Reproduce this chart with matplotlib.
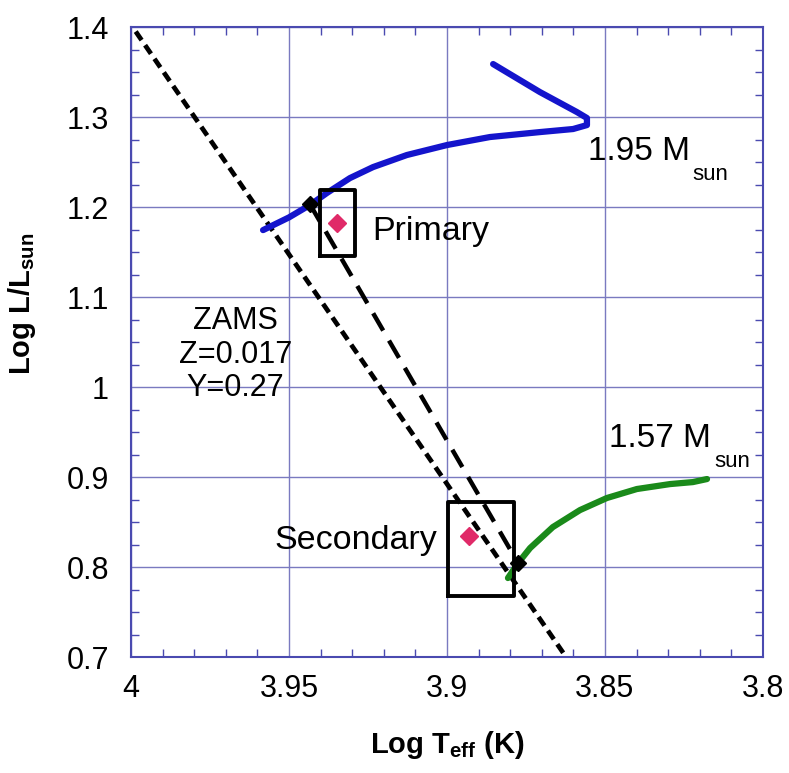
#!/usr/bin/env python3

import numpy as np
import matplotlib
matplotlib.use("Agg")
import matplotlib.pyplot as plt
from matplotlib.ticker import MultipleLocator, FuncFormatter

plt.rcParams['font.family'] = ['Liberation Sans', 'DejaVu Sans']
plt.rcParams['mathtext.fontset'] = 'custom'
plt.rcParams['mathtext.rm'] = 'Liberation Sans'
plt.rcParams['mathtext.bf'] = 'Liberation Sans:bold'

# evolutionary tracks (log Teff, log L/Lsun)
track_195_T = [3.9582, 3.9500, 3.9434, 3.9380, 3.9307, 3.9234, 3.9127, 3.9000,
               3.8864, 3.8706, 3.8601, 3.8557, 3.8557, 3.8589, 3.8706, 3.8854]
track_195_L = [1.1744, 1.1885, 1.2022, 1.2156, 1.2322, 1.2444, 1.2578, 1.2689,
               1.2778, 1.2833, 1.2867, 1.2911, 1.2989, 1.3056, 1.3278, 1.3589]

track_157_T = [3.8807, 3.8775, 3.8737, 3.8665, 3.8579, 3.8494, 3.8399, 3.8294,
               3.8222, 3.8177]
track_157_L = [0.7878, 0.8044, 0.8211, 0.8444, 0.8633, 0.8767, 0.8867, 0.8922,
               0.8944, 0.8978]

# ZAMS line
zams_T = [3.9985, 3.8623]
zams_L = [1.395, 0.700]

# line joining the two ZAMS points on the tracks
iso_T = [3.9434, 3.8775]
iso_L = [1.2033, 0.8044]

# observed components
obs_T = [3.9348, 3.8930]
obs_L = [1.1822, 0.8344]

# error boxes: (T_hot, T_cool), (L_low, L_high)
box_T = [(3.9402, 3.9291), (3.8997, 3.8788)]
box_L = [(1.1456, 1.2189), (0.7678, 0.8722)]

grid_col = '#7a7ac0'
spine_col = '#4a4ab0'

fig = plt.figure(figsize=(7.89, 7.73), dpi=100)
ax = fig.add_axes([0.166, 0.150, 0.801, 0.815])

ax.plot(zams_T, zams_L, color='black', lw=3.4, dashes=(2.2, 1.3), zorder=3)
ax.plot(iso_T, iso_L, color='black', lw=3.2, dashes=(4.5, 2.6), zorder=3)

ax.plot(track_195_T, track_195_L, color='#1414cc', lw=4.5,
        solid_capstyle='round', solid_joinstyle='round', zorder=4)
ax.plot(track_157_T, track_157_L, color='#1a8a1a', lw=4.5,
        solid_capstyle='round', solid_joinstyle='round', zorder=4)

for (t0, t1), (l0, l1) in zip(box_T, box_L):
    ax.plot([t0, t1, t1, t0, t0], [l0, l0, l1, l1, l0], color='black',
            lw=2.8, zorder=5)

ax.plot(obs_T, obs_L, ls='none', marker='D', ms=9, color='#e02a68', zorder=6)
ax.plot(iso_T, iso_L, ls='none', marker='D', ms=8, color='black', zorder=6)

ax.set_xlim(4.0, 3.8)
ax.set_ylim(0.7, 1.4)
ax.xaxis.set_major_locator(MultipleLocator(0.05))
ax.xaxis.set_minor_locator(MultipleLocator(0.01))
ax.yaxis.set_major_locator(MultipleLocator(0.1))
ax.yaxis.set_minor_locator(MultipleLocator(0.025))
fmt = FuncFormatter(lambda v, p: '%g' % round(v, 3))
ax.xaxis.set_major_formatter(fmt)
ax.yaxis.set_major_formatter(fmt)

ax.grid(True, which='major', color=grid_col, lw=1.0)
ax.tick_params(which='both', direction='in', top=True, right=True,
               color=spine_col, labelsize=22)
ax.tick_params(which='major', length=0)
ax.tick_params(which='minor', length=6, width=1)
ax.tick_params(axis='y', pad=16)
ax.tick_params(axis='x', pad=12)
for s in ax.spines.values():
    s.set_color(spine_col)
    s.set_linewidth(1.5)

ax.set_ylabel(r'Log L/L$_{\mathbf{sun}}$', fontsize=21, fontweight='bold')
ax.yaxis.set_label_coords(-0.147, 0.56)
ax.set_xlabel(r'Log T$_{\mathbf{eff}}$ (K)', fontsize=21, fontweight='bold',
              labelpad=18)

# labels (M with a lowered "sun" subscript)
t1 = ax.text(3.8554, 1.262, '1.95 M', fontsize=24, va='center', ha='left')
ax.annotate('sun', xy=(1, 0), xycoords=t1, xytext=(2, -9.5),
            textcoords='offset points', fontsize=16, va='baseline', ha='left')
t2 = ax.text(3.8486, 0.943, '1.57 M', fontsize=24, va='center', ha='left')
ax.annotate('sun', xy=(1, 0), xycoords=t2, xytext=(2, -9.5),
            textcoords='offset points', fontsize=16, va='baseline', ha='left')

ax.text(3.9237, 1.173, 'Primary', fontsize=24.5, va='center', ha='left')
ax.text(3.9546, 0.829, 'Secondary', fontsize=24.5, va='center', ha='left')
ax.text(3.967, 1.036, 'ZAMS\nZ=0.017\nY=0.27', fontsize=22, va='center',
        ha='center', linespacing=1.15)

fig.savefig('out.png', dpi=100)
